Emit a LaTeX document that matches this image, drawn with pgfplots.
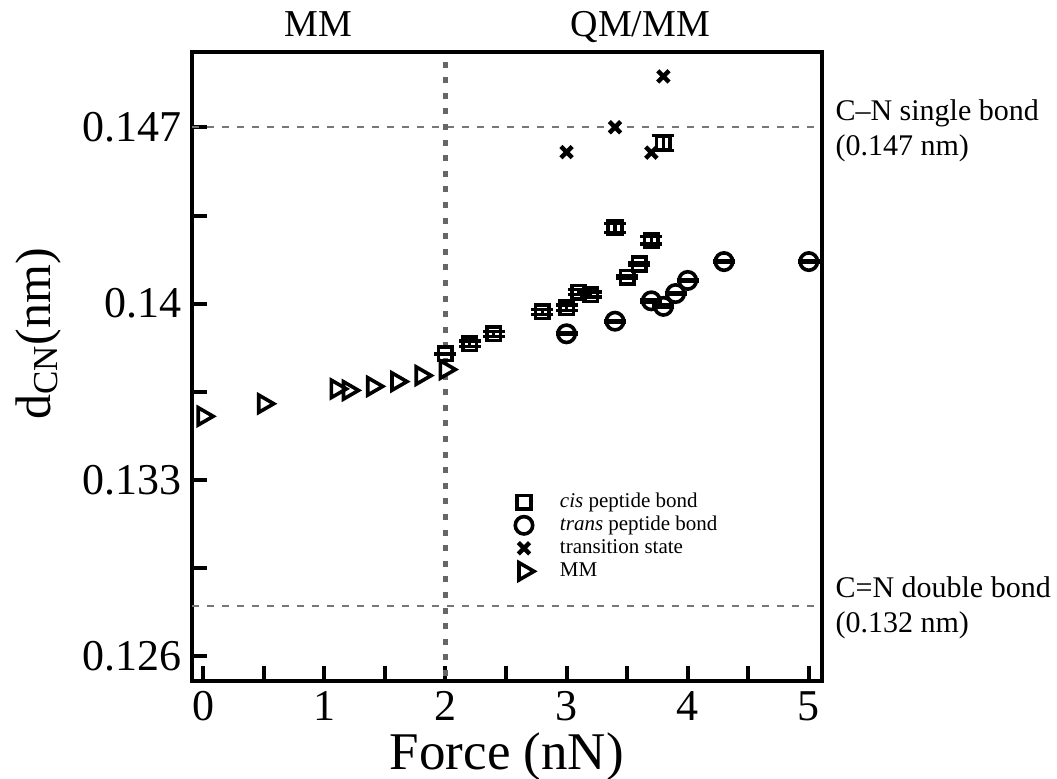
\documentclass[border=0pt]{standalone}
\usepackage{fontspec}
\setmainfont{Liberation Serif}
\usepackage{pgfplots}
\pgfplotsset{compat=1.18}
\definecolor{refgray}{HTML}{666666}
\definecolor{dashgray}{HTML}{777777}

\begin{document}
\begin{tikzpicture}
\begin{axis}[
  scale only axis, width=314.6pt, height=314.5pt,
  xmin=-0.09, xmax=5.105, ymin=0.125, ymax=0.150,
  clip=false,
  axis line style={line width=2pt},
  tick align=inside, xtick pos=bottom, ytick pos=left,
  major tick length=7.5pt, minor tick length=7.5pt,
  tick style={line width=2pt, black},
  xtick={0,1,2,3,4,5}, minor xtick={0.5,1.5,2.5,3.5,4.5},
  ytick={0.126,0.133,0.14,0.147}, yticklabels={0.126,0.133,0.14,0.147},
  minor ytick={0.1295,0.1365,0.1435},
  scaled y ticks=false,
  /pgf/number format/assume math mode=true,
  ticklabel style={font=\fontsize{22}{25}\selectfont, inner sep=5pt},
  xlabel={Force (nN)}, ylabel={d\textsubscript{CN}(nm)},
  xlabel style={font=\fontsize{26.5}{30}\selectfont, at={(axis description cs:0.5,0)}, anchor=base, yshift=-44.5pt},
  ylabel style={font=\fontsize{25}{30}\selectfont, at={(axis description cs:-0.2257,0.552)}, anchor=base},
  legend style={at={(0.5127,0.303)}, anchor=north west, draw=none, fill=none, inner sep=0pt,
    font=\fontsize{10.5}{12}\selectfont,
    nodes={inner sep=1pt, text height=7.3pt, text depth=2.2pt},
    /tikz/every odd column/.append style={column sep=12pt}},
  legend cell align=left,
]
% reference lines
\addplot[forget plot, dashgray, line width=1pt, dash pattern=on 3.5pt off 4pt] coordinates {(-0.09,0.147) (5.105,0.147)};
\addplot[forget plot, dashgray, line width=1pt, dash pattern=on 3.5pt off 4pt] coordinates {(-0.09,0.128) (5.105,0.128)};
\addplot[forget plot, refgray, line width=2.5pt, dash pattern=on 3pt off 4.8pt] coordinates {(2,0.1252) (2,0.1498)};

% cis peptide bond
\addplot[only marks, black, mark=square, mark size=3.4pt, line width=1.8pt,
  error bars/.cd, y dir=both, y explicit, error mark=|,
  error bar style={line width=1.6pt}, error mark options={line width=1.6pt, mark size=5.5pt, black}]
  table[x=x, y=y, y error=e] {
x y e
2.0 0.13801 0.00002
2.2 0.13841 0.0001
2.4 0.13880 0.0001
2.8 0.13968 0.0001
3.0 0.13984 0.0001
3.1 0.14045 0.0001
3.2 0.14036 0.0001
3.4 0.14301 0.00017
3.5 0.14105 0.00005
3.6 0.14157 0.00005
3.7 0.14252 0.00015
3.8 0.14639 0.0003
};
% trans peptide bond
\addplot[only marks, black, mark=o, mark size=4.35pt, line width=1.8pt,
  error bars/.cd, y dir=both, y explicit, error mark=|,
  error bar style={line width=1.6pt}, error mark options={line width=1.6pt, mark size=5.5pt, black}]
  table[x=x, y=y, y error=e] {
x y e
3.0 0.13880 0.00003
3.4 0.13930 0.00003
3.7 0.14011 0.00005
3.8 0.13989 0.00005
3.9 0.14040 0.00005
4.0 0.14092 0.00005
4.3 0.14167 0.00003
5.0 0.14167 0.00003
};
% transition state
\addplot[only marks, black, mark=x, mark size=4pt, line width=2.2pt] coordinates {
(3.0,0.14602) (3.4,0.14701) (3.7,0.14600) (3.8,0.14903)};
% MM
\addplot[only marks, black, mark=triangle, mark size=5pt, line width=1.8pt, mark options={rotate=-90}] coordinates {
(0,0.13552) (0.5,0.13602) (1.1,0.13661) (1.2,0.13655) (1.4,0.13671) (1.6,0.13690) (1.8,0.13714) (2.0,0.13738)};

\legend{\textit{cis} peptide bond, \textit{trans} peptide bond, transition state, MM}

% annotations
\node[anchor=base, font=\fontsize{19}{21}\selectfont, yshift=7.65pt] at (axis cs:0.95,0.150) {MM};
\node[anchor=base, font=\fontsize{19}{21}\selectfont, yshift=7.65pt] at (axis cs:3.61,0.150) {QM/MM};
\node[anchor=base west, font=\fontsize{15}{18}\selectfont, xshift=3.5pt, yshift=3.65pt] at (axis cs:5.105,0.147) {C–N single bond};
\node[anchor=base west, font=\fontsize{15}{18}\selectfont, xshift=3.5pt, yshift=-13.85pt] at (axis cs:5.105,0.147) {(0.147 nm)};
\node[anchor=base west, font=\fontsize{15}{18}\selectfont, xshift=3.5pt, yshift=4.15pt] at (axis cs:5.105,0.128) {C=N double bond};
\node[anchor=base west, font=\fontsize{15}{18}\selectfont, xshift=3.5pt, yshift=-13.35pt] at (axis cs:5.105,0.128) {(0.132 nm)};

\coordinate (sw) at (rel axis cs:0,0);
\coordinate (ne) at (rel axis cs:1,1);
\end{axis}
\pgfresetboundingbox
\path[use as bounding box] ([shift={(-96.15pt,-49pt)}]sw) rectangle ([shift={(117.75pt,26pt)}]ne);
\end{tikzpicture}
\end{document}
